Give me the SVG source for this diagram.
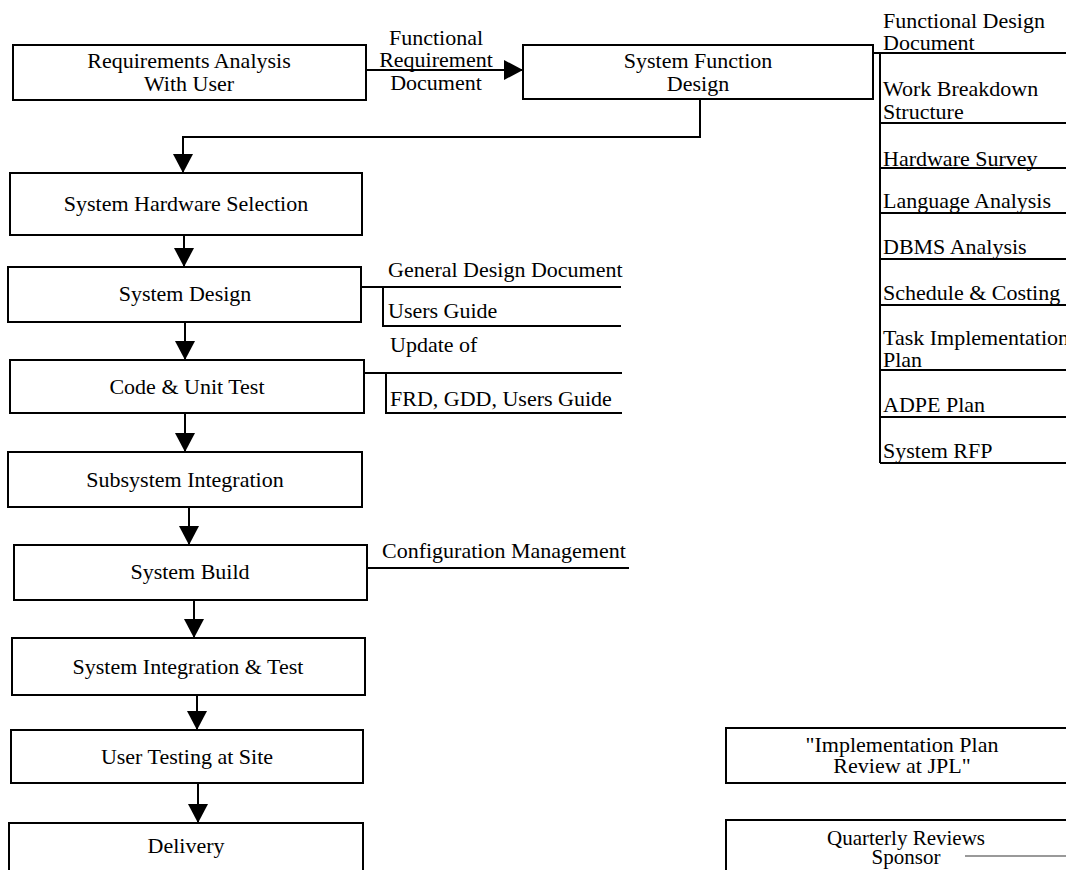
<svg xmlns="http://www.w3.org/2000/svg" width="1066" height="870" viewBox="0 0 1066 870">
<defs>
<style>
.box{fill:#fff;stroke:#000;stroke-width:2}
.ln{fill:none;stroke:#000;stroke-width:2}
.c{fill:none;stroke:#000;stroke-width:2}
text{font-family:"Liberation Serif","Times New Roman",serif;font-size:22px;fill:#000}
.m{text-anchor:middle}
</style>
<marker id="ah" markerUnits="userSpaceOnUse" markerWidth="20" markerHeight="20" refX="19" refY="10" orient="auto">
<path d="M0,0 L19,10 L0,20 z" fill="#000"/>
</marker>
</defs>
<rect width="1066" height="870" fill="#fff"/>

<g id="connectors">
<path class="c" d="M366,70 H523" marker-end="url(#ah)"/>
<path class="c" d="M700,99 V137 H183 V173" marker-end="url(#ah)"/>
<path class="c" d="M184,235 V267" marker-end="url(#ah)"/>
<path class="c" d="M185,322 V360" marker-end="url(#ah)"/>
<path class="c" d="M185,413 V452" marker-end="url(#ah)"/>
<path class="c" d="M189,507 V545" marker-end="url(#ah)"/>
<path class="c" d="M194,600 V638" marker-end="url(#ah)"/>
<path class="c" d="M197,695 V730" marker-end="url(#ah)"/>
<path class="c" d="M198,783 V823" marker-end="url(#ah)"/>
</g>

<g id="frd-label">
<text class="m" x="436" y="45">Functional</text>
<text class="m" x="436" y="67">Requirement</text>
<text class="m" x="436" y="90">Document</text>
</g>

<g id="n-req">
<rect class="box" x="13" y="45" width="353" height="55"/>
<text class="m" x="189" y="68">Requirements Analysis</text>
<text class="m" x="189" y="91">With User</text>
</g>

<g id="n-sfd">
<rect class="box" x="523" y="45" width="350" height="54"/>
<text class="m" x="698" y="68">System Function</text>
<text class="m" x="698" y="91">Design</text>
</g>

<g id="n-sfd-docs">
<path class="ln" d="M873,53 H1066 M880,53 V463 M880,123 H1066 M880,168 H1066 M880,213 H1066 M880,259 H1066 M880,305 H1066 M880,370 H1066 M880,417 H1066 M880,463 H1066"/>
<text x="883" y="28">Functional Design</text>
<text x="883" y="50">Document</text>
<text x="883" y="96">Work Breakdown</text>
<text x="883" y="119">Structure</text>
<text x="883" y="166">Hardware Survey</text>
<text x="883" y="208">Language Analysis</text>
<text x="883" y="254">DBMS Analysis</text>
<text x="883" y="300">Schedule &amp; Costing</text>
<text x="883" y="345">Task Implementation</text>
<text x="883" y="367">Plan</text>
<text x="883" y="412">ADPE Plan</text>
<text x="883" y="458">System RFP</text>
</g>

<g id="n-shs">
<rect class="box" x="10" y="173" width="352" height="62"/>
<text class="m" x="186" y="211">System Hardware Selection</text>
</g>

<g id="n-sd">
<rect class="box" x="8" y="267" width="353" height="55"/>
<text class="m" x="185" y="301">System Design</text>
</g>

<g id="n-sd-docs">
<path class="ln" d="M361,287 H621 M383,287 V326 H621"/>
<text x="388" y="277">General Design Document</text>
<text x="388" y="318">Users Guide</text>
</g>

<g id="n-cut">
<rect class="box" x="10" y="360" width="354" height="53"/>
<text class="m" x="187" y="394">Code &amp; Unit Test</text>
</g>

<g id="n-cut-docs">
<path class="ln" d="M364,373 H622 M386,373 V413 H622"/>
<text x="390" y="352">Update of</text>
<text x="390" y="406">FRD, GDD, Users Guide</text>
</g>

<g id="n-si">
<rect class="box" x="8" y="452" width="354" height="55"/>
<text class="m" x="185" y="487">Subsystem Integration</text>
</g>

<g id="n-sb">
<rect class="box" x="14" y="545" width="353" height="55"/>
<text class="m" x="190" y="579">System Build</text>
</g>

<g id="n-cm">
<path class="ln" d="M367,568 H629"/>
<text x="382" y="558">Configuration Management</text>
</g>

<g id="n-sit">
<rect class="box" x="12" y="638" width="353" height="57"/>
<text class="m" x="188" y="674">System Integration &amp; Test</text>
</g>

<g id="n-uts">
<rect class="box" x="11" y="730" width="352" height="53"/>
<text class="m" x="187" y="764">User Testing at Site</text>
</g>

<g id="n-del">
<rect class="box" x="9" y="823" width="354" height="60"/>
<text class="m" x="186" y="853">Delivery</text>
</g>

<g id="n-ipr">
<rect class="box" x="726" y="728" width="350" height="55"/>
<text class="m" x="902" y="752">"Implementation Plan</text>
<text class="m" x="902" y="773">Review at JPL"</text>
</g>

<g id="n-qr">
<rect class="box" x="726" y="820" width="350" height="60"/>
<text class="m" x="906" y="845" style="font-size:21px">Quarterly Reviews</text>
<text class="m" x="906" y="864" style="font-size:21px">Sponsor</text>
<path d="M965,856 H1066" stroke="#777" stroke-width="1.5"/>
</g>
</svg>
